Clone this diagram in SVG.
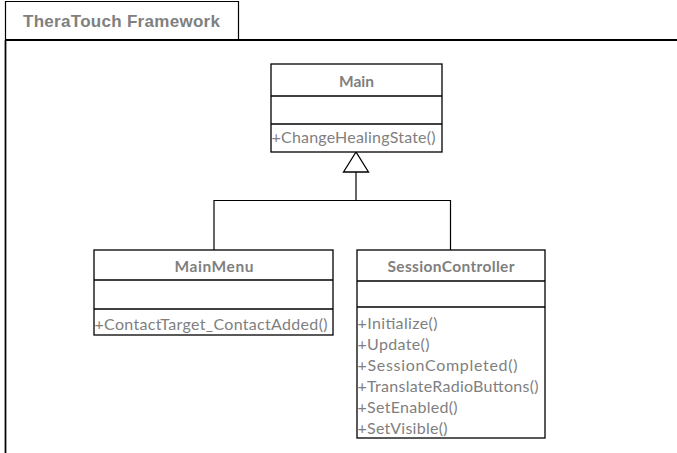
<svg xmlns="http://www.w3.org/2000/svg" width="677" height="453" viewBox="0 0 677 453">
<style>
.box{fill:#fff;stroke:#000;stroke-width:1.3}
.div{stroke:#000;stroke-width:1.3}
.t{font-family:Lato,"Noto Sans",sans-serif;font-size:15.5px;fill:#7f7f7f;font-weight:bold;text-anchor:middle;dominant-baseline:central}
.m{font-family:Lato,"Noto Sans",sans-serif;font-size:16px;fill:#7f7f7f;dominant-baseline:central}
.c{fill:none;stroke:#000;stroke-width:1.2}
</style>
<rect width="677" height="453" fill="#fff"/>
<g id="frame">
<path d="M5.5,453 V1.5 H238.5 V40" fill="none" stroke="#000" stroke-width="1.2"/>
<line x1="5" y1="40" x2="677" y2="40" stroke="#000" stroke-width="2"/>
<line x1="5.5" y1="40" x2="5.5" y2="453" stroke="#000" stroke-width="1.6"/>
<text x="23" y="21" font-family="'Liberation Sans',Arial,sans-serif" font-size="17" font-weight="bold" fill="#808080" dominant-baseline="central" textLength="197">TheraTouch Framework</text>
</g>
<g id="connectors">
<path class="c" d="M214,250 V200.5 H450.5 V250"/>
<line class="c" x1="356" y1="172" x2="356" y2="200.5"/>
<polygon points="356,152 343.5,172 368.5,172" fill="#fff" stroke="#000" stroke-width="1.3"/>
</g>
<g id="Main">
<rect class="box" x="271" y="64" width="171" height="88"/>
<line class="div" x1="271" y1="96" x2="442" y2="96"/>
<line class="div" x1="271" y1="124" x2="442" y2="124"/>
<text class="t" x="356.5" y="81">Main</text>
<text class="m" x="271.5" y="136" textLength="164">+ChangeHealingState()</text>
</g>
<g id="MainMenu">
<rect class="box" x="94" y="250" width="239" height="85"/>
<line class="div" x1="94" y1="280" x2="333" y2="280"/>
<line class="div" x1="94" y1="309" x2="333" y2="309"/>
<text class="t" x="214" y="266" textLength="79">MainMenu</text>
<text class="m" x="94.5" y="323" textLength="233">+ContactTarget_ContactAdded()</text>
</g>
<g id="SessionController">
<rect class="box" x="357" y="250" width="188" height="188"/>
<line class="div" x1="357" y1="281" x2="545" y2="281"/>
<line class="div" x1="357" y1="307" x2="545" y2="307"/>
<text class="t" x="451" y="266" textLength="127">SessionController</text>
<text class="m" x="357.5" y="322" textLength="80">+Initialize()</text>
<text class="m" x="357.5" y="343" textLength="72">+Update()</text>
<text class="m" x="357.5" y="364" textLength="160">+SessionCompleted()</text>
<text class="m" x="357.5" y="385" textLength="181">+TranslateRadioButtons()</text>
<text class="m" x="357.5" y="406" textLength="100">+SetEnabled()</text>
<text class="m" x="357.5" y="427" textLength="90">+SetVisible()</text>
</g>
</svg>
